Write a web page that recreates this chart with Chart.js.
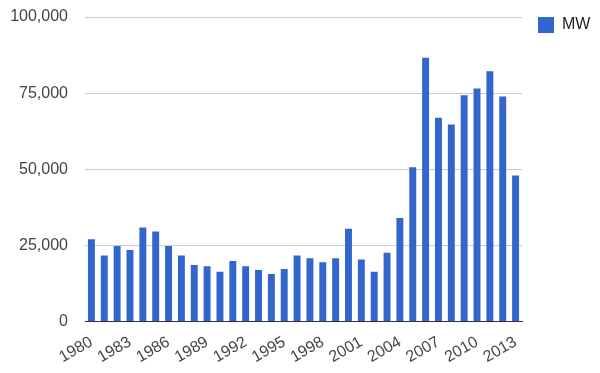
<!DOCTYPE html>
<html>
<head>
<meta charset="utf-8">
<script src="https://cdn.jsdelivr.net/npm/chart.js"></script>
<style>
  html, body { margin: 0; padding: 0; background: #fff; }
  #wrap { width: 600px; height: 373px; }
</style>
</head>
<body>
<div id="wrap"><canvas id="grafico"></canvas></div>
<script>
  const years = [];
  for (let y = 1980; y <= 2013; y++) years.push(String(y));

  const mw = [27000, 21700, 24800, 23500, 30900, 29600, 24800, 21700, 18600, 18200,
              16400, 19900, 18200, 16900, 15600, 17300, 21700, 20800, 19500, 20800,
              30500, 20400, 16400, 22600, 34000, 50700, 86600, 66900, 64700, 74300,
              76500, 82200, 73900, 48000];

  const yTicks = [0, 25000, 50000, 75000, 100000];

  new Chart(document.getElementById('grafico'), {
    type: 'bar',
    data: {
      labels: years,
      datasets: [{
        label: 'MW',
        data: mw,
        backgroundColor: '#3366cc',
        borderWidth: 0,
        barPercentage: 0.6,
        categoryPercentage: 0.9
      }]
    },
    options: {
      responsive: true,
      maintainAspectRatio: false,
      animation: false,
      layout: { padding: { top: 1, right: 0, left: 8, bottom: 3 } },
      plugins: {
        tooltip: { enabled: false },
        legend: {
          position: 'right',
          align: 'start',
          maxWidth: 78,
          labels: {
            boxWidth: 16,
            boxHeight: 16,
            padding: 16,
            color: '#222',
            font: { family: 'Arial, "Liberation Sans"', size: 16 }
          }
        }
      },
      scales: {
        x: {
          grid: { display: false },
          border: { color: '#333', width: 1 },
          ticks: {
            autoSkip: false,
            maxRotation: 30,
            minRotation: 30,
            color: '#444',
            font: { family: 'Arial, "Liberation Sans"', size: 16 },
            callback: function (v, i) { return i % 3 === 0 ? years[i] : ''; }
          }
        },
        y: {
          min: yTicks[0],
          max: yTicks[yTicks.length - 1],
          afterBuildTicks: function (axis) { axis.ticks = yTicks.map(v => ({ value: v })); },
          afterFit: function (s) { s.width = 77; s.paddingTop = 17; },
          grid: { color: '#cccccc', drawTicks: false },
          border: { display: false },
          ticks: {
            padding: 17,
            color: '#444',
            font: { family: 'Arial, "Liberation Sans"', size: 16 },
            callback: v => v.toLocaleString('en-US')
          }
        }
      }
    }
  });
</script>
</body>
</html>
